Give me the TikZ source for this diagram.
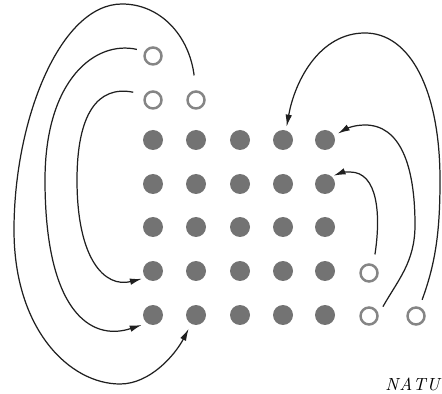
\documentclass[tikz,border=0pt]{standalone}
\usetikzlibrary{arrows.meta}
\begin{document}
\begin{tikzpicture}[x=0.02cm, y=-0.02cm, >={Latex[length=2.4mm,width=1.3mm]}, %Voreinstellung für Pfeilspitzen
    atomdot/.style={circle, fill=black!55, minimum size=4mm, inner sep=0pt},
    emptydot/.style={circle, draw=black!48, line width=1.4pt, minimum size=3.4mm, inner sep=0pt},
    jump/.style={draw=black!88, line width=0.7pt, ->}]
  \useasboundingbox (0,0) rectangle (442,394);
  %Besetzte Gitterplaetze
  \foreach \c/\x in {1/153,2/196,3/240,4/283,5/325}
    \foreach \r/\y in {1/140,2/184,3/227,4/271,5/315}
      \node[atomdot] (f\r\c) at (\x,\y) {};
  %Leerstellen
  \node[emptydot] (oA) at (153,56) {};
  \node[emptydot] (oB) at (153,100) {};
  \node[emptydot] (oC) at (196,100) {};
  \node[emptydot] (oD) at (369,273) {};
  \node[emptydot] (oE) at (369,316) {};
  \node[emptydot] (oF) at (416,316) {};
  %Spruenge links
  \draw[jump, shorten <=8.5pt, shorten >=3pt] (oC.north) .. controls (189,35) and (160,4) .. (122,4)
    .. controls (60,4) and (14,120) .. (14,230) .. controls (14,330) and (70,384) .. (120,384)
    .. controls (150,384) and (175,355) .. (f52.242);
  \draw[jump, shorten <=4.5pt, shorten >=3pt] (oA.150) .. controls (95,40) and (45,80) .. (45,180)
    .. controls (45,310) and (90,342) .. (f51.233);
  \draw[jump, shorten <=6.8pt, shorten >=2pt] (oB.146) .. controls (97,85) and (77,115) .. (77,180)
    .. controls (77,260) and (105,288) .. (f41.222);
  %Spruenge rechts
  \draw[jump, shorten <=4.3pt, shorten >=2pt] (oF.69) .. controls (436,262) and (440,230) .. (440,180)
    .. controls (440,90) and (410,33) .. (365,33) .. controls (320,33) and (295,80) .. (f14.73);
  \draw[jump, shorten <=5pt, shorten >=2.3pt] (oE.10) .. controls (398,280) and (415,262) .. (415,225)
    .. controls (415,165) and (400,125) .. (365,125) .. controls (352,125) and (344,130) .. (f15.25);
  \draw[jump, shorten <=5.7pt, shorten >=1pt] (oD.63) .. controls (381,215) and (378,172) .. (350,172)
    .. controls (343,172) .. (f25.48);
  \node[anchor=base west, inner sep=0pt, font=\fontsize{10}{12}\selectfont\itshape] (natur) at (385,390) {N\kern0.5pt A\kern0.5pt T\kern0.5pt U};
\end{tikzpicture}
\end{document}
